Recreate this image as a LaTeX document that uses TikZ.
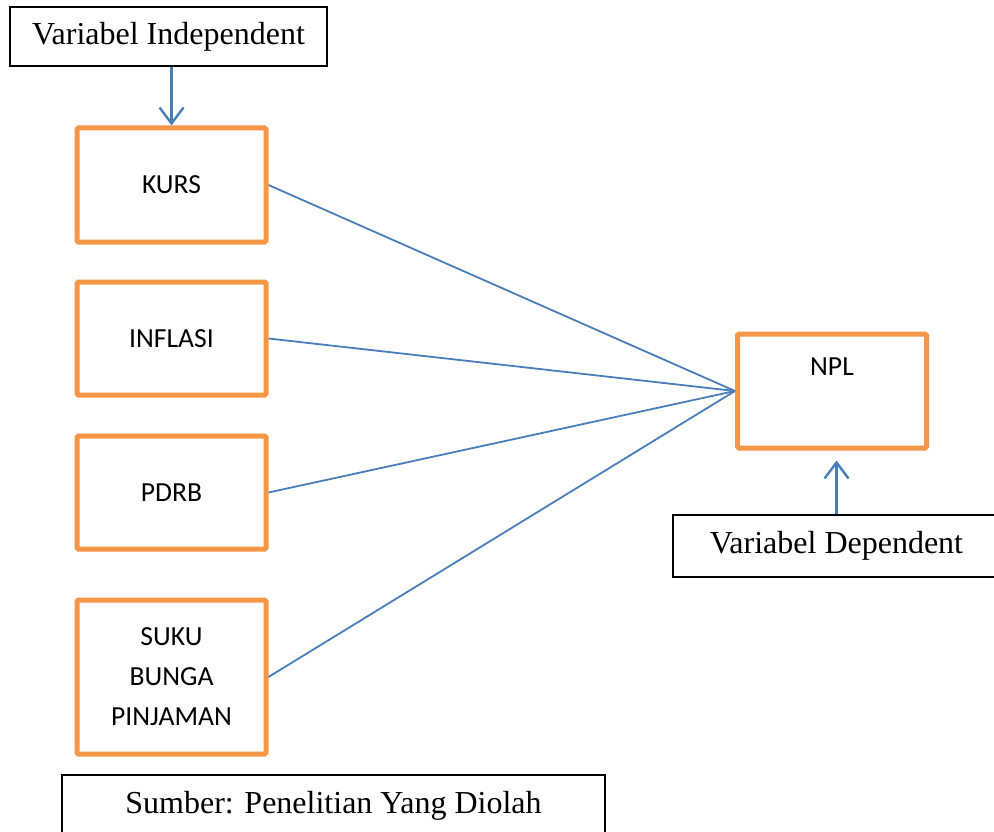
\documentclass[tikz,border=0pt]{standalone}
\usepackage{fontspec}
\setmainfont{Liberation Serif}
\newfontfamily\calibri{Carlito}
\usetikzlibrary{arrows.meta,positioning}
\definecolor{boxorange}{HTML}{F79646}
\definecolor{lineblue}{HTML}{4A7EBB}
\tikzset{
  varbox/.style={draw=boxorange, line width=5pt, rounded corners=1.5pt, minimum width=189pt,
    font=\calibri\fontsize{27.6}{40}\selectfont, align=center},
  notebox/.style={draw=black, line width=1.3pt, font=\fontsize{32}{38}\selectfont},
  link/.style={draw=lineblue, line width=1.8pt},
  into/.style={link, line width=2.6pt, -{Straight Barb[length=16pt,width=24pt,line width=2.4pt]}}
}
\begin{document}
\begin{tikzpicture}[x=1pt,y=-1pt]
\useasboundingbox (0,0) rectangle (994,832);
% independent variables
\node[varbox, minimum height=114pt] (kurs) at (171.5,185) {KURS};
\node[varbox, minimum height=113pt] (inflasi) at (171.5,338.5) {INFLASI};
\node[varbox, minimum height=113pt] (pdrb) at (171.5,492.5) {PDRB};
\node[varbox, minimum height=154pt] (suku) at (171.5,677) {SUKU\\BUNGA\\PINJAMAN};
% dependent variable
\node[varbox, minimum height=114pt] (npl) at (832,391) {};
\node[font=\calibri\fontsize{27.6}{40}\selectfont] (npltext) at (832,367) {NPL};
% captions
\node[notebox, minimum width=317pt, minimum height=59pt] (indep) at (168.5,36.5) {Variabel Independent};
\node[notebox, minimum width=327pt, minimum height=62pt] (dep) at (836.5,546) {Variabel Dependent};
\node[notebox, minimum width=543pt, minimum height=62pt] (sumber) at (333.5,806) {Sumber: Penelitian Yang Diolah};
% connectors
\draw[into] (indep.south -| kurs.north) -- (kurs.north);
\draw[into, shorten >=10pt] (dep.north) -- (dep.north |- npl.south);
\foreach \v in {kurs,inflasi,pdrb,suku}
  \draw[link] (\v.east) -- (npl.west);
\end{tikzpicture}
\end{document}
